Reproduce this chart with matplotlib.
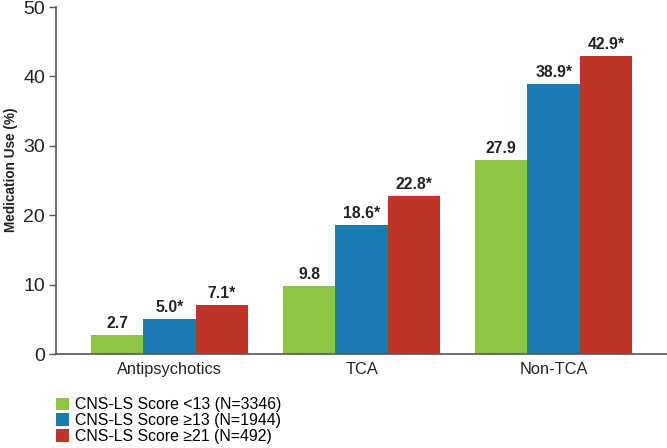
import matplotlib
matplotlib.use("Agg")
import matplotlib.pyplot as plt
import numpy as np

categories = ["Antipsychotics", "TCA", "Non-TCA"]
series_names = ["CNS-LS Score <13 (N=3346)", "CNS-LS Score \u226513 (N=1944)", "CNS-LS Score \u226521 (N=492)"]
low = [2.7, 9.8, 27.9]
mid = [5.0, 18.6, 38.9]
high = [7.1, 22.8, 42.9]
low_labels = ["2.7", "9.8", "27.9"]
mid_labels = ["5.0*", "18.6*", "38.9*"]
high_labels = ["7.1*", "22.8*", "42.9*"]

colors = ["#8cc540", "#1a7cb5", "#c0342a"]

plt.rcParams['font.family'] = ['Liberation Sans', 'DejaVu Sans']

fig = plt.figure(figsize=(6.67, 4.48), dpi=100)
ax = fig.add_axes([56/667, (448-354)/448, 1 - 56/667, (354-7)/448])

x = np.arange(len(categories))
w = 0.2725
series = [low, mid, high]
labels = [low_labels, mid_labels, high_labels]
for i, (vals, labs, c, name) in enumerate(zip(series, labels, colors, series_names)):
    bars = ax.bar(x + (i - 1) * w, vals, w, color=c, label=name, zorder=2)
    for b, t in zip(bars, labs):
        ax.text(b.get_x() + b.get_width() / 2, b.get_height() + 0.6, t,
                ha="center", va="bottom", fontsize=11.3, fontweight="bold", color="#222222")

ax.set_xlim(-0.59, 2.59)
ax.set_ylim(0, 50)
ax.set_yticks([0, 10, 20, 30, 40, 50])
ax.set_xticks(x)
ax.set_xticklabels(categories, fontsize=11.8, color="#222222")
ax.tick_params(axis="x", length=0, pad=6)
ax.tick_params(axis="y", length=5, width=1, color="#555555", labelsize=14, labelcolor="#222222", pad=3)
for s in ["top", "right"]:
    ax.spines[s].set_visible(False)
for s in ["left", "bottom"]:
    ax.spines[s].set_color("#555555")
    ax.spines[s].set_linewidth(1.2)
ax.set_ylabel("Medication Use (%)", fontsize=9.8, fontweight="bold", color="#222222")
ax.yaxis.set_label_coords(-0.062, 0.53)

fig.legend(loc="upper left", bbox_to_anchor=(0.084, 0.113), frameon=False,
           fontsize=11.4, handlelength=0.85, handleheight=0.85, handletextpad=0.35,
           labelspacing=0.05, borderpad=0, borderaxespad=0)

fig.savefig("out.png", dpi=100)
